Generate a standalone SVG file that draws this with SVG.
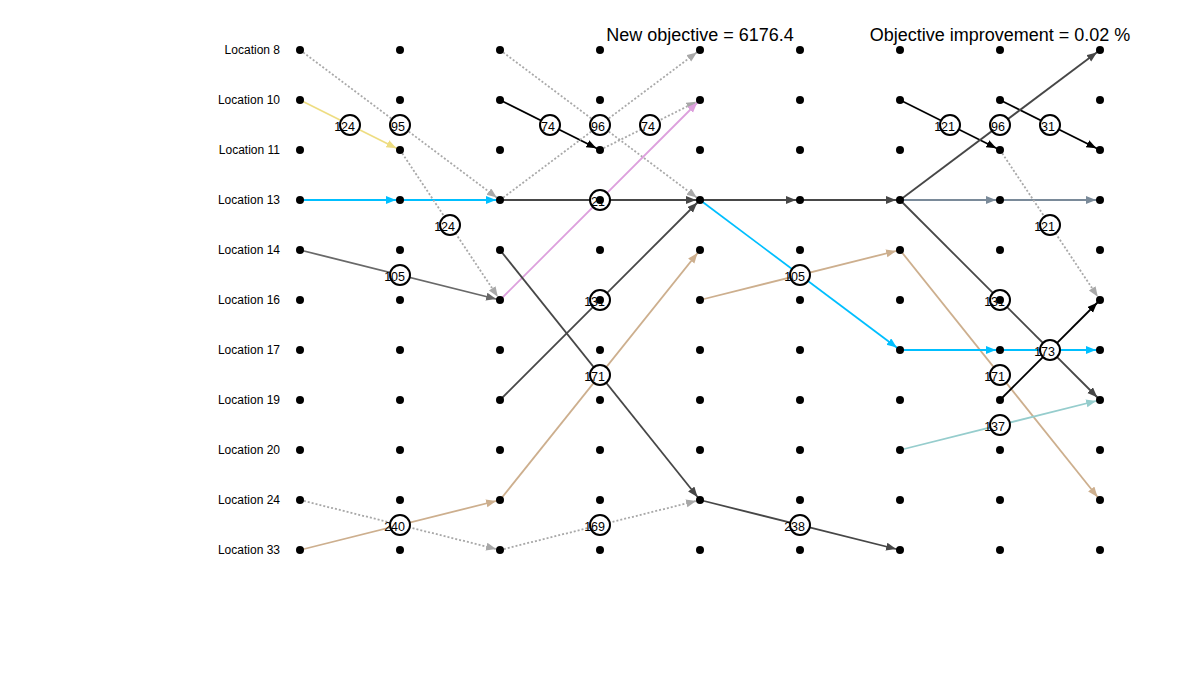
<svg xmlns="http://www.w3.org/2000/svg" width="1200" height="700" viewBox="0 0 1200 700">
  <style>
    .e { fill: none; stroke-width: 1.8; }
    .yel { stroke: #EEDD82; }
    .cya { stroke: #00BFFF; }
    .dim { stroke: #696969; }
    .blk { stroke: #000000; }
    .dk  { stroke: #474747; }
    .plm { stroke: #DDA0DD; }
    .tan { stroke: #CDAF8E; }
    .sla { stroke: #7A8A99; }
    .tea { stroke: #96CDCD; }
    .dot-e { stroke: #A8A8A8; stroke-dasharray: 2 2; }
    .lbl circle { fill: #ffffff; stroke: #000000; stroke-width: 2; }
    .lbl text { font-family: "Liberation Sans", Arial, sans-serif; font-size: 12.5px; fill: #000; text-anchor: end; }
    .dot { fill: #000000; }
    .loc { font-family: "Liberation Sans", Arial, sans-serif; font-size: 12px; fill: #000; text-anchor: end; }
    .title { font-family: "Liberation Sans", Arial, sans-serif; font-size: 18px; fill: #000; text-anchor: middle; }
  </style>
  <defs>
    <marker id="a-yel" markerUnits="userSpaceOnUse" markerWidth="16" markerHeight="10" refX="14" refY="4" orient="auto"><path d="M0,0 L10,4 L0,8 z" fill="#EEDD82"/></marker>
    <marker id="a-cya" markerUnits="userSpaceOnUse" markerWidth="16" markerHeight="10" refX="14" refY="4" orient="auto"><path d="M0,0 L10,4 L0,8 z" fill="#00BFFF"/></marker>
    <marker id="a-dim" markerUnits="userSpaceOnUse" markerWidth="16" markerHeight="10" refX="14" refY="4" orient="auto"><path d="M0,0 L10,4 L0,8 z" fill="#696969"/></marker>
    <marker id="a-blk" markerUnits="userSpaceOnUse" markerWidth="16" markerHeight="10" refX="14" refY="4" orient="auto"><path d="M0,0 L10,4 L0,8 z" fill="#000000"/></marker>
    <marker id="a-dk" markerUnits="userSpaceOnUse" markerWidth="16" markerHeight="10" refX="14" refY="4" orient="auto"><path d="M0,0 L10,4 L0,8 z" fill="#474747"/></marker>
    <marker id="a-plm" markerUnits="userSpaceOnUse" markerWidth="16" markerHeight="10" refX="14" refY="4" orient="auto"><path d="M0,0 L10,4 L0,8 z" fill="#DDA0DD"/></marker>
    <marker id="a-tan" markerUnits="userSpaceOnUse" markerWidth="16" markerHeight="10" refX="14" refY="4" orient="auto"><path d="M0,0 L10,4 L0,8 z" fill="#CDAF8E"/></marker>
    <marker id="a-sla" markerUnits="userSpaceOnUse" markerWidth="16" markerHeight="10" refX="14" refY="4" orient="auto"><path d="M0,0 L10,4 L0,8 z" fill="#7A8A99"/></marker>
    <marker id="a-tea" markerUnits="userSpaceOnUse" markerWidth="16" markerHeight="10" refX="14" refY="4" orient="auto"><path d="M0,0 L10,4 L0,8 z" fill="#96CDCD"/></marker>
    <marker id="a-gry" markerUnits="userSpaceOnUse" markerWidth="16" markerHeight="10" refX="14" refY="4" orient="auto"><path d="M0,0 L10,4 L0,8 z" fill="#A8A8A8"/></marker>
  </defs>

  <rect width="1200" height="700" fill="#ffffff"/>

  <!-- headline figures -->
  <text class="title" x="700" y="41">New objective = 6176.4</text>
  <text class="title" x="1000" y="41">Objective improvement = 0.02 %</text>

  <!-- location names -->
  <g id="locations">
    <text class="loc" x="280" y="54">Location 8</text>
    <text class="loc" x="280" y="104">Location 10</text>
    <text class="loc" x="280" y="154">Location 11</text>
    <text class="loc" x="280" y="204">Location 13</text>
    <text class="loc" x="280" y="254">Location 14</text>
    <text class="loc" x="280" y="304">Location 16</text>
    <text class="loc" x="280" y="354">Location 17</text>
    <text class="loc" x="280" y="404">Location 19</text>
    <text class="loc" x="280" y="454">Location 20</text>
    <text class="loc" x="280" y="504">Location 24</text>
    <text class="loc" x="280" y="554">Location 33</text>
  </g>

  <!-- moves between time steps -->
  <g id="connectors">
    <line class="e yel" x1="300" y1="100" x2="400" y2="150" marker-end="url(#a-yel)"/>
    <line class="e dot-e" x1="300" y1="50" x2="500" y2="200" marker-end="url(#a-gry)"/>
    <line class="e cya" x1="300" y1="200" x2="400" y2="200" marker-end="url(#a-cya)"/>
    <line class="e cya" x1="400" y1="200" x2="500" y2="200" marker-end="url(#a-cya)"/>
    <line class="e dot-e" x1="400" y1="150" x2="500" y2="300" marker-end="url(#a-gry)"/>
    <line class="e dim" x1="300" y1="250" x2="500" y2="300" marker-end="url(#a-dim)"/>
    <line class="e dot-e" x1="300" y1="500" x2="500" y2="550" marker-end="url(#a-gry)"/>
    <line class="e tan" x1="300" y1="550" x2="500" y2="500" marker-end="url(#a-tan)"/>

    <line class="e blk" x1="500" y1="100" x2="600" y2="150" marker-end="url(#a-blk)"/>
    <line class="e dot-e" x1="500" y1="50" x2="700" y2="200" marker-end="url(#a-gry)"/>
    <line class="e dot-e" x1="500" y1="200" x2="700" y2="50" marker-end="url(#a-gry)"/>
    <line class="e dot-e" x1="600" y1="150" x2="700" y2="100" marker-end="url(#a-gry)"/>
    <line class="e dk" x1="500" y1="200" x2="700" y2="200" marker-end="url(#a-dk)"/>
    <line class="e plm" x1="500" y1="300" x2="700" y2="100" marker-end="url(#a-plm)"/>
    <line class="e dk" x1="500" y1="400" x2="700" y2="200" marker-end="url(#a-dk)"/>
    <line class="e dk" x1="500" y1="250" x2="700" y2="500" marker-end="url(#a-dk)"/>
    <line class="e tan" x1="500" y1="500" x2="700" y2="250" marker-end="url(#a-tan)"/>
    <line class="e dot-e" x1="500" y1="550" x2="700" y2="500" marker-end="url(#a-gry)"/>

    <line class="e dk" x1="700" y1="200" x2="800" y2="200" marker-end="url(#a-dk)"/>
    <line class="e dk" x1="800" y1="200" x2="900" y2="200" marker-end="url(#a-dk)"/>
    <line class="e cya" x1="700" y1="200" x2="900" y2="350" marker-end="url(#a-cya)"/>
    <line class="e tan" x1="700" y1="300" x2="900" y2="250" marker-end="url(#a-tan)"/>
    <line class="e dk" x1="700" y1="500" x2="900" y2="550" marker-end="url(#a-dk)"/>

    <line class="e blk" x1="900" y1="100" x2="1000" y2="150" marker-end="url(#a-blk)"/>
    <line class="e blk" x1="1000" y1="100" x2="1100" y2="150" marker-end="url(#a-blk)"/>
    <line class="e dk" x1="900" y1="200" x2="1100" y2="50" marker-end="url(#a-dk)"/>
    <line class="e sla" x1="900" y1="200" x2="1000" y2="200" marker-end="url(#a-sla)"/>
    <line class="e sla" x1="1000" y1="200" x2="1100" y2="200" marker-end="url(#a-sla)"/>
    <line class="e dot-e" x1="1000" y1="150" x2="1100" y2="300" marker-end="url(#a-gry)"/>
    <line class="e dk" x1="900" y1="200" x2="1100" y2="400" marker-end="url(#a-dk)"/>
    <line class="e tan" x1="900" y1="250" x2="1100" y2="500" marker-end="url(#a-tan)"/>
    <line class="e cya" x1="900" y1="350" x2="1000" y2="350" marker-end="url(#a-cya)"/>
    <line class="e cya" x1="1000" y1="350" x2="1100" y2="350" marker-end="url(#a-cya)"/>
    <line class="e blk" x1="1000" y1="400" x2="1100" y2="300" marker-end="url(#a-blk)"/>
    <line class="e tea" x1="900" y1="450" x2="1100" y2="400" marker-end="url(#a-tea)"/>

    <!-- quantities carried on the moves -->
    <g class="lbl">
      <circle cx="350" cy="125" r="10"/><text x="355" y="130.5">124</text>
      <circle cx="400" cy="125" r="10"/><text x="405" y="130.5">95</text>
      <circle cx="450" cy="225" r="10"/><text x="455" y="230.5">124</text>
      <circle cx="400" cy="275" r="10"/><text x="405" y="280.5">105</text>
      <circle cx="550" cy="125" r="10"/><text x="555" y="130.5">74</text>
      <circle cx="600" cy="125" r="10"/><text x="605" y="130.5">96</text>
      <circle cx="650" cy="125" r="10"/><text x="655" y="130.5">74</text>
      <circle cx="600" cy="200" r="10"/><text x="605" y="205.5">21</text>
      <circle cx="600" cy="300" r="10"/><text x="605" y="305.5">131</text>
      <circle cx="600" cy="375" r="10"/><text x="605" y="380.5">171</text>
      <circle cx="400" cy="525" r="10"/><text x="405" y="530.5">240</text>
      <circle cx="600" cy="525" r="10"/><text x="605" y="530.5">169</text>
      <circle cx="800" cy="275" r="10"/><text x="805" y="280.5">105</text>
      <circle cx="800" cy="525" r="10"/><text x="805" y="530.5">238</text>
      <circle cx="950" cy="125" r="10"/><text x="955" y="130.5">121</text>
      <circle cx="1000" cy="125" r="10"/><text x="1005" y="130.5">96</text>
      <circle cx="1050" cy="125" r="10"/><text x="1055" y="130.5">31</text>
      <circle cx="1050" cy="225" r="10"/><text x="1055" y="230.5">121</text>
      <circle cx="1000" cy="300" r="10"/><text x="1005" y="305.5">131</text>
      <circle cx="1050" cy="350" r="10"/><text x="1055" y="355.5">173</text>
      <circle cx="1000" cy="375" r="10"/><text x="1005" y="380.5">171</text>
      <circle cx="1000" cy="425" r="10"/><text x="1005" y="430.5">137</text>
    </g>
  </g>

  <!-- location / time-step nodes -->
  <g id="nodes">
    <g id="loc8">
      <g id="loc8-t0"><circle class="dot" cx="300" cy="50" r="4"/></g>
      <g id="loc8-t1"><circle class="dot" cx="400" cy="50" r="4"/></g>
      <g id="loc8-t2"><circle class="dot" cx="500" cy="50" r="4"/></g>
      <g id="loc8-t3"><circle class="dot" cx="600" cy="50" r="4"/></g>
      <g id="loc8-t4"><circle class="dot" cx="700" cy="50" r="4"/></g>
      <g id="loc8-t5"><circle class="dot" cx="800" cy="50" r="4"/></g>
      <g id="loc8-t6"><circle class="dot" cx="900" cy="50" r="4"/></g>
      <g id="loc8-t7"><circle class="dot" cx="1000" cy="50" r="4"/></g>
      <g id="loc8-t8"><circle class="dot" cx="1100" cy="50" r="4"/></g>
    </g>
    <g id="loc10">
      <g id="loc10-t0"><circle class="dot" cx="300" cy="100" r="4"/></g>
      <g id="loc10-t1"><circle class="dot" cx="400" cy="100" r="4"/></g>
      <g id="loc10-t2"><circle class="dot" cx="500" cy="100" r="4"/></g>
      <g id="loc10-t3"><circle class="dot" cx="600" cy="100" r="4"/></g>
      <g id="loc10-t4"><circle class="dot" cx="700" cy="100" r="4"/></g>
      <g id="loc10-t5"><circle class="dot" cx="800" cy="100" r="4"/></g>
      <g id="loc10-t6"><circle class="dot" cx="900" cy="100" r="4"/></g>
      <g id="loc10-t7"><circle class="dot" cx="1000" cy="100" r="4"/></g>
      <g id="loc10-t8"><circle class="dot" cx="1100" cy="100" r="4"/></g>
    </g>
    <g id="loc11">
      <g id="loc11-t0"><circle class="dot" cx="300" cy="150" r="4"/></g>
      <g id="loc11-t1"><circle class="dot" cx="400" cy="150" r="4"/></g>
      <g id="loc11-t2"><circle class="dot" cx="500" cy="150" r="4"/></g>
      <g id="loc11-t3"><circle class="dot" cx="600" cy="150" r="4"/></g>
      <g id="loc11-t4"><circle class="dot" cx="700" cy="150" r="4"/></g>
      <g id="loc11-t5"><circle class="dot" cx="800" cy="150" r="4"/></g>
      <g id="loc11-t6"><circle class="dot" cx="900" cy="150" r="4"/></g>
      <g id="loc11-t7"><circle class="dot" cx="1000" cy="150" r="4"/></g>
      <g id="loc11-t8"><circle class="dot" cx="1100" cy="150" r="4"/></g>
    </g>
    <g id="loc13">
      <g id="loc13-t0"><circle class="dot" cx="300" cy="200" r="4"/></g>
      <g id="loc13-t1"><circle class="dot" cx="400" cy="200" r="4"/></g>
      <g id="loc13-t2"><circle class="dot" cx="500" cy="200" r="4"/></g>
      <g id="loc13-t3"><circle class="dot" cx="600" cy="200" r="4"/></g>
      <g id="loc13-t4"><circle class="dot" cx="700" cy="200" r="4"/></g>
      <g id="loc13-t5"><circle class="dot" cx="800" cy="200" r="4"/></g>
      <g id="loc13-t6"><circle class="dot" cx="900" cy="200" r="4"/></g>
      <g id="loc13-t7"><circle class="dot" cx="1000" cy="200" r="4"/></g>
      <g id="loc13-t8"><circle class="dot" cx="1100" cy="200" r="4"/></g>
    </g>
    <g id="loc14">
      <g id="loc14-t0"><circle class="dot" cx="300" cy="250" r="4"/></g>
      <g id="loc14-t1"><circle class="dot" cx="400" cy="250" r="4"/></g>
      <g id="loc14-t2"><circle class="dot" cx="500" cy="250" r="4"/></g>
      <g id="loc14-t3"><circle class="dot" cx="600" cy="250" r="4"/></g>
      <g id="loc14-t4"><circle class="dot" cx="700" cy="250" r="4"/></g>
      <g id="loc14-t5"><circle class="dot" cx="800" cy="250" r="4"/></g>
      <g id="loc14-t6"><circle class="dot" cx="900" cy="250" r="4"/></g>
      <g id="loc14-t7"><circle class="dot" cx="1000" cy="250" r="4"/></g>
      <g id="loc14-t8"><circle class="dot" cx="1100" cy="250" r="4"/></g>
    </g>
    <g id="loc16">
      <g id="loc16-t0"><circle class="dot" cx="300" cy="300" r="4"/></g>
      <g id="loc16-t1"><circle class="dot" cx="400" cy="300" r="4"/></g>
      <g id="loc16-t2"><circle class="dot" cx="500" cy="300" r="4"/></g>
      <g id="loc16-t3"><circle class="dot" cx="600" cy="300" r="4"/></g>
      <g id="loc16-t4"><circle class="dot" cx="700" cy="300" r="4"/></g>
      <g id="loc16-t5"><circle class="dot" cx="800" cy="300" r="4"/></g>
      <g id="loc16-t6"><circle class="dot" cx="900" cy="300" r="4"/></g>
      <g id="loc16-t7"><circle class="dot" cx="1000" cy="300" r="4"/></g>
      <g id="loc16-t8"><circle class="dot" cx="1100" cy="300" r="4"/></g>
    </g>
    <g id="loc17">
      <g id="loc17-t0"><circle class="dot" cx="300" cy="350" r="4"/></g>
      <g id="loc17-t1"><circle class="dot" cx="400" cy="350" r="4"/></g>
      <g id="loc17-t2"><circle class="dot" cx="500" cy="350" r="4"/></g>
      <g id="loc17-t3"><circle class="dot" cx="600" cy="350" r="4"/></g>
      <g id="loc17-t4"><circle class="dot" cx="700" cy="350" r="4"/></g>
      <g id="loc17-t5"><circle class="dot" cx="800" cy="350" r="4"/></g>
      <g id="loc17-t6"><circle class="dot" cx="900" cy="350" r="4"/></g>
      <g id="loc17-t7"><circle class="dot" cx="1000" cy="350" r="4"/></g>
      <g id="loc17-t8"><circle class="dot" cx="1100" cy="350" r="4"/></g>
    </g>
    <g id="loc19">
      <g id="loc19-t0"><circle class="dot" cx="300" cy="400" r="4"/></g>
      <g id="loc19-t1"><circle class="dot" cx="400" cy="400" r="4"/></g>
      <g id="loc19-t2"><circle class="dot" cx="500" cy="400" r="4"/></g>
      <g id="loc19-t3"><circle class="dot" cx="600" cy="400" r="4"/></g>
      <g id="loc19-t4"><circle class="dot" cx="700" cy="400" r="4"/></g>
      <g id="loc19-t5"><circle class="dot" cx="800" cy="400" r="4"/></g>
      <g id="loc19-t6"><circle class="dot" cx="900" cy="400" r="4"/></g>
      <g id="loc19-t7"><circle class="dot" cx="1000" cy="400" r="4"/></g>
      <g id="loc19-t8"><circle class="dot" cx="1100" cy="400" r="4"/></g>
    </g>
    <g id="loc20">
      <g id="loc20-t0"><circle class="dot" cx="300" cy="450" r="4"/></g>
      <g id="loc20-t1"><circle class="dot" cx="400" cy="450" r="4"/></g>
      <g id="loc20-t2"><circle class="dot" cx="500" cy="450" r="4"/></g>
      <g id="loc20-t3"><circle class="dot" cx="600" cy="450" r="4"/></g>
      <g id="loc20-t4"><circle class="dot" cx="700" cy="450" r="4"/></g>
      <g id="loc20-t5"><circle class="dot" cx="800" cy="450" r="4"/></g>
      <g id="loc20-t6"><circle class="dot" cx="900" cy="450" r="4"/></g>
      <g id="loc20-t7"><circle class="dot" cx="1000" cy="450" r="4"/></g>
      <g id="loc20-t8"><circle class="dot" cx="1100" cy="450" r="4"/></g>
    </g>
    <g id="loc24">
      <g id="loc24-t0"><circle class="dot" cx="300" cy="500" r="4"/></g>
      <g id="loc24-t1"><circle class="dot" cx="400" cy="500" r="4"/></g>
      <g id="loc24-t2"><circle class="dot" cx="500" cy="500" r="4"/></g>
      <g id="loc24-t3"><circle class="dot" cx="600" cy="500" r="4"/></g>
      <g id="loc24-t4"><circle class="dot" cx="700" cy="500" r="4"/></g>
      <g id="loc24-t5"><circle class="dot" cx="800" cy="500" r="4"/></g>
      <g id="loc24-t6"><circle class="dot" cx="900" cy="500" r="4"/></g>
      <g id="loc24-t7"><circle class="dot" cx="1000" cy="500" r="4"/></g>
      <g id="loc24-t8"><circle class="dot" cx="1100" cy="500" r="4"/></g>
    </g>
    <g id="loc33">
      <g id="loc33-t0"><circle class="dot" cx="300" cy="550" r="4"/></g>
      <g id="loc33-t1"><circle class="dot" cx="400" cy="550" r="4"/></g>
      <g id="loc33-t2"><circle class="dot" cx="500" cy="550" r="4"/></g>
      <g id="loc33-t3"><circle class="dot" cx="600" cy="550" r="4"/></g>
      <g id="loc33-t4"><circle class="dot" cx="700" cy="550" r="4"/></g>
      <g id="loc33-t5"><circle class="dot" cx="800" cy="550" r="4"/></g>
      <g id="loc33-t6"><circle class="dot" cx="900" cy="550" r="4"/></g>
      <g id="loc33-t7"><circle class="dot" cx="1000" cy="550" r="4"/></g>
      <g id="loc33-t8"><circle class="dot" cx="1100" cy="550" r="4"/></g>
    </g>
  </g>
</svg>
